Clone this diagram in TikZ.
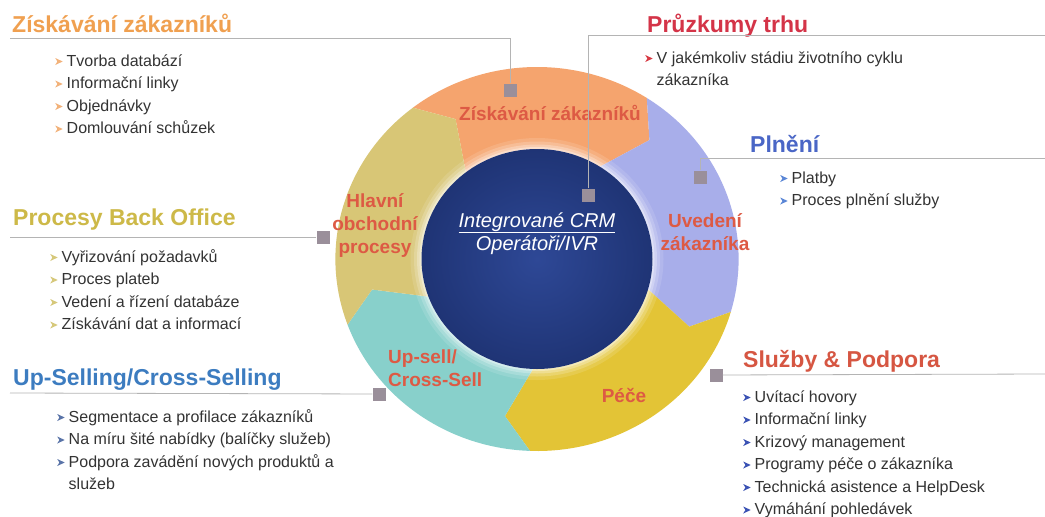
\documentclass[tikz,border=0pt]{standalone}
\usepackage{fontspec}
\setmainfont{Liberation Sans}
\definecolor{orangeT}{HTML}{F0A050}
\definecolor{redT}{HTML}{D43448}
\definecolor{blueT}{HTML}{4A66C6}
\definecolor{oliveT}{HTML}{CDB948}
\definecolor{upsT}{HTML}{3C7CC0}
\definecolor{servT}{HTML}{D65642}
\definecolor{ringT}{HTML}{DD5A44}
\definecolor{txt}{HTML}{333333}
\definecolor{sqgray}{HTML}{9A8F9A}
\definecolor{linegray}{HTML}{B4B4B4}
\definecolor{segOr}{HTML}{F5A46E}
\definecolor{segLav}{HTML}{A8AEEA}
\definecolor{segYel}{HTML}{E3C436}
\definecolor{segTeal}{HTML}{88D0CB}
\definecolor{segBei}{HTML}{D8C676}
\definecolor{blueA}{HTML}{2E4896}
\definecolor{blueB}{HTML}{1F3475}
\definecolor{bZ}{HTML}{F2B27A}
\definecolor{bP}{HTML}{D83A44}
\definecolor{bPl}{HTML}{5A86D6}
\definecolor{bPr}{HTML}{D6C87A}
\definecolor{bU}{HTML}{5A74A8}
\definecolor{bS}{HTML}{3A52B4}
% arrowhead bullet in front of list items
\newcommand{\bul}[1]{\tikz[x=1pt,y=1pt,baseline=0pt]\fill[#1] (0,1) -- (7.5,4.5) -- (0,8) -- (2.2,4.5) -- cycle;\hspace{4pt}}
\newcommand{\cont}{\hspace*{11.5pt}}
\begin{document}
\begin{tikzpicture}[x=1pt,y=-1pt]
  \tikzset{
    head/.style={anchor=base west, inner sep=0pt, font=\fontsize{23}{26}\selectfont\bfseries},
    items/.style={anchor=base west, inner sep=0pt, align=left, text=txt, font=\fontsize{16}{22.5}\selectfont},
    seglabel/.style={anchor=base, inner sep=0pt, align=center, text=ringT, font=\fontsize{19}{23}\selectfont\bfseries},
    marker/.style={fill=sqgray, minimum size=13pt, inner sep=0pt},
    guide/.style={draw=linegray, line width=0.8pt}
  }
  \useasboundingbox[fill=white] (0,0) rectangle (1045,517);

  % ring of five arrows, clockwise
  \def\seg#1#2#3{\fill[#1] (#2:192) arc[start angle=#2, end angle=#3, radius=192] -- ({#3+9}:160) -- (#3:110) arc[start angle=#3, end angle=#2, radius=110] -- ({#2+9}:160) -- cycle;}
  \begin{scope}[shift={(537,259)}, xscale=1.05]
    \seg{segOr}{232}{303}
    \seg{segLav}{303}{376}
    \seg{segYel}{376}{452}
    \seg{segTeal}{452}{520}
    \seg{segBei}{520}{592}
    % soft glow round the core
    \foreach \w/\o in {22/0.12, 15/0.18, 9/0.25, 4/0.35}
      \draw[white, line width=\w pt, opacity=\o] (0,0) circle[radius=110];
    \shade[inner color=blueA, outer color=blueB] (0,0) circle[radius=110];
  \end{scope}

  % base of a multi-line node is its last line
  \node[seglabel] (rZisk) at (550,120) {Získávání zákazníků};
  \node[seglabel] (rHlav) at (375,253) {Hlavní\\obchodní\\procesy};
  \node[seglabel] (rUved) at (705,250) {Uvedení\\zákazníka};
  \node[seglabel, anchor=base west, align=left] (rUpse) at (388,386) {Up-sell/\\Cross-Sell};
  \node[seglabel] (rPece) at (624,402) {Péče};
  \node[anchor=base, inner sep=0pt, align=center, text=white, font=\fontsize{20}{23}\selectfont\itshape] (crm) at (537,250) {\underline{Integrované CRM}\\Operátoři/IVR};

  % headings and lists
  \node[head, text=orangeT] (tZisk) at (12,32) {Získávání zákazníků};
  \node[items] (lZisk) at (55,133.5) {\bul{bZ}Tvorba databází\\\bul{bZ}Informační linky\\\bul{bZ}Objednávky\\\bul{bZ}Domlouvání schůzek};
  \node[head, text=redT] (tPruz) at (647,32) {Průzkumy trhu};
  \node[items] (lPruz) at (645,85.5) {\bul{bP}V jakémkoliv stádiu životního cyklu\\\cont zákazníka};
  \node[head, text=blueT] (tPlne) at (750,152) {Plnění};
  \node[items] (lPlne) at (780,205.5) {\bul{bPl}Platby\\\bul{bPl}Proces plnění služby};
  \node[head, text=oliveT] (tProc) at (13,225) {Procesy Back Office};
  \node[items] (lProc) at (50,329.5) {\bul{bPr}Vyřizování požadavků\\\bul{bPr}Proces plateb\\\bul{bPr}Vedení a řízení databáze\\\bul{bPr}Získávání dat a informací};
  \node[head, text=upsT] (tUpse) at (13,385) {Up-Selling/Cross-Selling};
  \node[items] (lUpse) at (57,489.5) {\bul{bU}Segmentace a profilace zákazníků\\\bul{bU}Na míru šité nabídky (balíčky služeb)\\\bul{bU}Podpora zavádění nových produktů a\\\cont služeb};
  \node[head, text=servT] (tSluz) at (743,367) {Služby \& Podpora};
  \node[items] (lSluz) at (743,514.5) {\bul{bS}Uvítací hovory\\\bul{bS}Informační linky\\\bul{bS}Krizový management\\\bul{bS}Programy péče o zákazníka\\\bul{bS}Technická asistence a HelpDesk\\\bul{bS}Vymáhání pohledávek};

  % markers and guide lines
  \node[marker] (m1) at (510,90) {};
  \node[marker] (m2) at (588,195) {};
  \node[marker] (m3) at (700,177) {};
  \node[marker] (m4) at (323,237) {};
  \node[marker] (m5) at (379,394) {};
  \node[marker] (m6) at (716,375) {};
  \coordinate (e1) at (10,38);
  \coordinate (e2) at (1045,35);
  \coordinate (e3) at (1045,158);
  \coordinate (e4) at (10,237);
  \coordinate (e5) at (10,393);
  \coordinate (e6) at (1045,374);
  \draw[guide] (m1) |- (e1);
  \draw[guide] (m2) |- (e2);
  \draw[guide] (m3) |- (e3);
  \draw[guide] (m4) -- (e4);
  \draw[guide] (m5) -- (e5);
  \draw[guide] (m6) -- (e6);
\end{tikzpicture}
\end{document}
